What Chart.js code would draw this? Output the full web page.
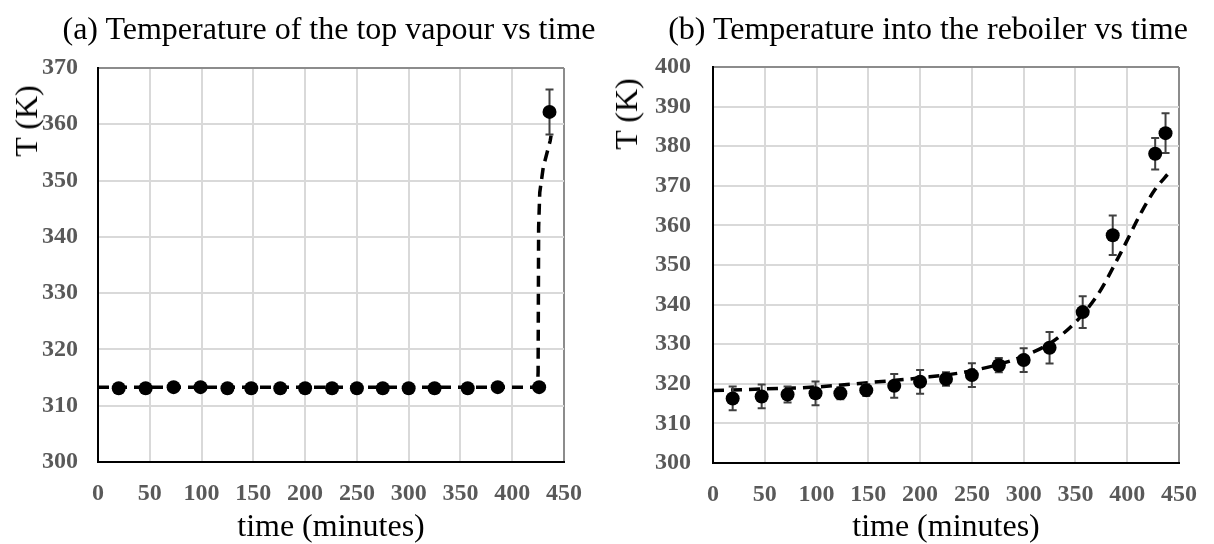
<!DOCTYPE html>
<html>
<head>
<meta charset="utf-8">
<script src="https://cdn.jsdelivr.net/npm/chart.js@4.4.0/dist/chart.umd.min.js"></script>
<style>
  body { margin: 0; background: #fff; width: 1214px; height: 544px; position: relative; overflow: hidden;
         font-family: "Liberation Serif", "Times New Roman", serif; }
  .box { position: absolute; top: 0; height: 544px; }
  .box canvas { display: block; }
  .title { position: absolute; top: 12px; width: 600px; text-align: center; font-size: 32px; line-height: 32px;
           white-space: nowrap; color: #000; }
  .ytitle { position: absolute; font-size: 32px; line-height: 32px; white-space: nowrap; color: #000;
            transform: translate(-50%, -50%) rotate(-90deg); }
</style>
</head>
<body>
<div class="box" style="left:0;width:600px"><canvas id="chartA" width="600" height="544"></canvas></div>
<div class="box" style="left:600px;width:614px"><canvas id="chartB" width="614" height="544"></canvas></div>
<div class="title" style="left:29px">(a) Temperature of the top vapour vs time</div>
<div class="title" style="left:628px">(b) Temperature into the reboiler vs time</div>
<div class="ytitle" style="left:26px;top:121px">T (K)</div>
<div class="ytitle" style="left:626px;top:114px">T (K)</div>

<script>
// (a) top vapour
const timeA = [20, 46, 73, 99, 125, 148, 176, 200, 226, 250, 275, 300, 325, 357, 386, 426, 436];
const tempA = [313.1, 313.1, 313.3, 313.3, 313.1, 313.1, 313.1, 313.1, 313.1, 313.1, 313.1, 313.1, 313.1, 313.1, 313.3, 313.3, 362.2];
const errA = [0.3, 0.3, 0.3, 0.3, 0.3, 0.3, 0.3, 0.3, 0.3, 0.3, 0.3, 0.3, 0.3, 0.3, 0.3, 0.3, 4.0];
const trendTimeA = [0, 424.5, 425, 425.5, 426.6, 430, 436.7, 437.5];
const trendTempA = [313.3, 313.3, 316, 341.7, 347.9, 352.4, 357.1, 358];

// (b) into the reboiler
const timeB = [19, 47, 72, 99, 123, 148, 175, 200, 225, 250, 276, 300, 325, 357, 386, 427, 437];
const tempB = [316.3, 316.8, 317.3, 317.6, 317.6, 318.4, 319.5, 320.5, 321.2, 322.2, 324.7, 326.0, 329.1, 338.1, 357.5, 378.1, 383.3];
const errB = [3, 3, 2, 3, 1.5, 1.5, 3, 3, 1.7, 3, 1.8, 3, 4, 4, 5, 4, 5];
const trendTimeB = [0, 50, 100, 150, 200, 250, 300, 335, 370, 394, 414, 427, 440];
const trendTempB = [318.3, 318.7, 319.2, 320.3, 321.5, 323.3, 327, 332, 341.9, 353.2, 363.5, 369.1, 373.2];

const xTicks = [0, 50, 100, 150, 200, 250, 300, 350, 400, 450];

const toPoints = (xs, ys) => xs.map((x, i) => ({ x: x, y: ys[i] }));

// error bars, drawn just before the scatter points
const errorBars = {
  id: 'errorBars',
  beforeDatasetDraw(chart, args) {
    const ds = chart.data.datasets[args.index];
    if (!ds.errors) return;
    const { ctx } = chart;
    const x = chart.scales.x, y = chart.scales.y;
    ctx.save();
    ctx.strokeStyle = '#404040';
    ctx.lineWidth = 2;
    ds.data.forEach((p, i) => {
      const e = ds.errors[i];
      const px = x.getPixelForValue(p.x);
      const top = y.getPixelForValue(p.y + e);
      const bot = y.getPixelForValue(p.y - e);
      ctx.beginPath();
      ctx.moveTo(px, top); ctx.lineTo(px, bot);
      ctx.moveTo(px - 4, top); ctx.lineTo(px + 4, top);
      ctx.moveTo(px - 4, bot); ctx.lineTo(px + 4, bot);
      ctx.stroke();
    });
    ctx.restore();
  }
};

const tickFont = { family: 'Liberation Serif', size: 24, weight: 'bold' };

function makeChart(id, s) {
  const ctx = document.getElementById(id).getContext('2d');
  return new Chart(ctx, {
    data: {
      datasets: [{
        type: 'scatter',
        data: toPoints(s.times, s.temps),
        errors: s.errs,
        backgroundColor: '#000',
        borderWidth: 0,
        pointRadius: 7,
        order: 1
      }, {
        type: 'line',
        data: toPoints(s.trendT, s.trendY),
        borderColor: '#000',
        borderWidth: 3.5,
        borderDash: [11, 7],
        pointRadius: 0,
        fill: false,
        tension: 0,
        cubicInterpolationMode: s.smooth ? 'monotone' : 'default',
        order: 2
      }]
    },
    options: {
      responsive: false,
      animation: false,
      layout: { padding: s.padding },
      plugins: { legend: { display: false }, tooltip: { enabled: false }, title: { display: false } },
      scales: {
        x: {
          type: 'linear', min: 0, max: 450,
          afterBuildTicks: scale => { scale.ticks = xTicks.map(v => ({ value: v })); },
          afterFit: scale => { scale.height = s.xHeight; },
          grid: {
            drawTicks: false, lineWidth: 2,
            color: c => c.tick.value === 450 ? '#8c8c8c' : (c.tick.value === 0 ? '#000' : '#d9d9d9')
          },
          border: { color: '#000', width: 2 },
          ticks: { font: tickFont, color: '#595959', padding: 17, maxRotation: 0, autoSkip: false },
          title: {
            display: true, text: 'time (minutes)', color: '#000', padding: 0,
            font: { family: 'Liberation Serif', size: 32, lineHeight: 1.05 }
          }
        },
        y: {
          type: 'linear', min: 300, max: s.yMax,
          afterFit: scale => { scale.width = s.yWidth; },
          grid: {
            drawTicks: false, lineWidth: 2,
            color: c => c.tick.value === s.yMax ? '#8c8c8c' : (c.tick.value === 300 ? '#000' : '#d9d9d9')
          },
          border: { color: '#000', width: 2 },
          ticks: { font: tickFont, color: '#595959', padding: s.yPad, stepSize: 10 }
        }
      }
    },
    plugins: [errorBars]
  });
}

makeChart('chartA', {
  times: timeA, temps: tempA, errs: errA, trendT: trendTimeA, trendY: trendTempA,
  yMax: 370, smooth: false,
  padding: { top: 68, right: 36, left: 0, bottom: 0 },
  yWidth: 98, xHeight: 82, yPad: 20
});

makeChart('chartB', {
  times: timeB, temps: tempB, errs: errB, trendT: trendTimeB, trendY: trendTempB,
  yMax: 400, smooth: true,
  padding: { top: 67, right: 22, left: 0, bottom: 0 },
  yWidth: 113, xHeight: 81, yPad: 22
});
</script>
</body>
</html>
